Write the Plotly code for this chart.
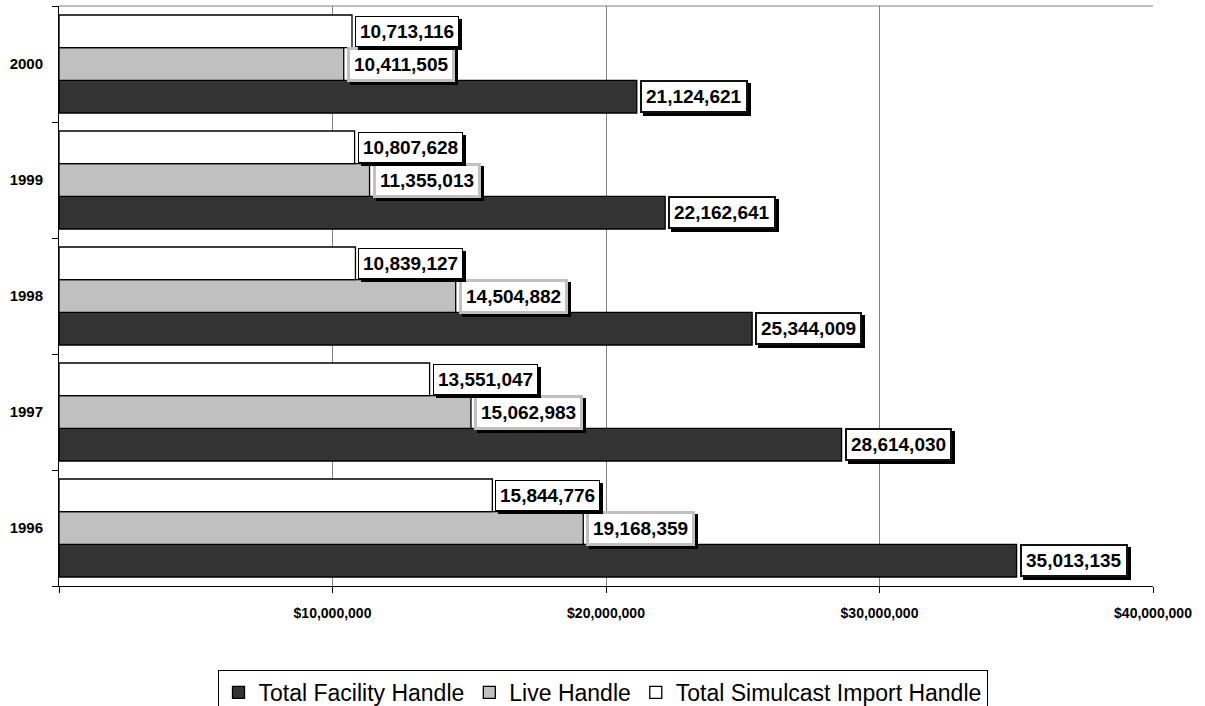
import plotly.graph_objects as go

years = ["1996", "1997", "1998", "1999", "2000"]
total_facility = [35013135, 28614030, 25344009, 22162641, 21124621]
live_handle = [19168359, 15062983, 14504882, 11355013, 10411505]
simulcast_import = [15844776, 13551047, 10839127, 10807628, 10713116]
series_names = ["Total Facility Handle", "Live Handle", "Total Simulcast Import Handle"]
x_tick_vals = [0, 10000000, 20000000, 30000000, 40000000]
x_tick_text = ["", "$10,000,000", "$20,000,000", "$30,000,000", "$40,000,000"]

series_values = [total_facility, live_handle, simulcast_import]
fills = ["#333333", "#c0c0c0", "#ffffff"]
label_borders = ["#111111", "#c0c0c0", "#000000"]
label_bw = [2, 3, 1]

FONT = "Arial, 'Liberation Sans', sans-serif"
BARGAP = 0.155
ypos = list(range(len(years)))

fig = go.Figure()
for name, vals, col in zip(series_names, series_values, fills):
    fig.add_trace(go.Bar(
        y=ypos, x=vals, orientation="h", name=name,
        marker=dict(color=col, line=dict(color="#000000", width=1.3)),
    ))

w = (1 - BARGAP) / len(series_values)
annotations = []
for si, vals in enumerate(series_values):
    off = (si - (len(series_values) - 1) / 2) * w
    for yi, v in enumerate(vals):
        txt = "<b>" + f"{v:,}" + "</b>"
        common = dict(x=v, y=yi + off, xref="x", yref="y", text=txt,
                      showarrow=False, xanchor="left", yanchor="middle",
                      borderwidth=label_bw[si], borderpad=4)
        annotations.append(dict(common, xshift=6, yshift=-3,
                                font=dict(family=FONT, size=19, color="#000000"),
                                bgcolor="#000000", bordercolor="#000000"))
        annotations.append(dict(common, xshift=3, yshift=0,
                                font=dict(family=FONT, size=19, color="#000000"),
                                bgcolor="#ffffff", bordercolor=label_borders[si]))

fig.update_layout(
    width=1205, height=706,
    margin=dict(l=59, r=52, t=6, b=120),
    paper_bgcolor="#ffffff", plot_bgcolor="#ffffff",
    barmode="group", bargap=BARGAP, bargroupgap=0,
    font=dict(family=FONT, color="#000000"),
    annotations=annotations,
    showlegend=True,
    legend=dict(
        orientation="h", xref="container", x=0.5, xanchor="center",
        yref="container", y=1 - 670 / 706, yanchor="top",
        bordercolor="#000000", borderwidth=1, bgcolor="#ffffff",
        font=dict(family=FONT, size=23, color="#000000"),
        itemwidth=30, tracegroupgap=0,
    ),
    shapes=[dict(type="line", xref="paper", yref="paper", x0=0, x1=1, y0=1, y1=1,
                 line=dict(color="#808080", width=1), layer="below")],
)
fig.update_xaxes(
    range=[0, 40000000], tickvals=x_tick_vals, ticktext=x_tick_text,
    showgrid=True, gridcolor="#808080", gridwidth=1, zeroline=False,
    showline=True, linecolor="#000000", linewidth=1,
    ticks="outside", ticklen=6, tickcolor="#000000",
    tickfont=dict(family=FONT, size=14, color="#000000", weight="bold"),
    ticklabelstandoff=8, fixedrange=True,
)
fig.update_yaxes(
    range=[-0.5, len(years) - 0.5], tickvals=ypos, ticktext=years,
    showgrid=False, zeroline=False, showline=True, linecolor="#000000", linewidth=1,
    ticks="", tickfont=dict(family=FONT, size=15, color="#000000", weight="bold"),
    ticklabelstandoff=12,
    minor=dict(tick0=-0.5, dtick=1, ticks="outside", ticklen=6, tickcolor="#000000", showgrid=False),
    fixedrange=True,
)
fig.write_html("out.html", config={"displayModeBar": False},
               post_script="document.body.style.margin='0';document.body.style.overflow='hidden';")
